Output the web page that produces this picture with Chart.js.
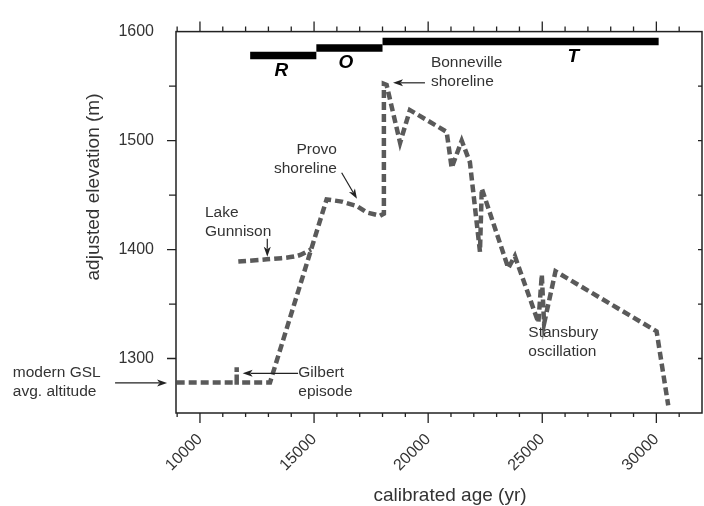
<!DOCTYPE html>
<html>
<head>
<meta charset="utf-8">
<script src="https://cdn.jsdelivr.net/npm/chart.js@4.4.1/dist/chart.umd.min.js"></script>
<style>
  html, body { margin: 0; padding: 0; background: #fff; }
  #wrap { width: 704px; height: 506px; }
</style>
</head>
<body>
<div id="wrap"><canvas id="chart" width="704" height="506"></canvas></div>
<script>
// ── Lake level curve: calibrated age (yr) / adjusted elevation (m) ──
const mainAge  = [8980, 11610, 11610, 11610, 13070, 15550, 16210, 16870, 17310, 17890, 18060, 18060,
                  18180, 18770, 19200, 20810, 21030, 21470, 21830, 22270, 22350, 23510, 23800,
                  24830, 24980, 25080, 25580, 30010, 30520];
const mainElev = [1278, 1278, 1292, 1278, 1278, 1446, 1444, 1440, 1434, 1431, 1433, 1552,
                  1551, 1498, 1528, 1508, 1475, 1500, 1480, 1398, 1456, 1383, 1394,
                  1333, 1377, 1332, 1380, 1325, 1257];

// Lake Gunnison branch
const gunAge  = [11680, 12930, 14240, 14870];
const gunElev = [1389, 1391, 1394, 1400];

// ── Stage bars along the top ──
const stageNames = ['R', 'O', 'T'];
const stageStart = [12200, 15100, 18000];
const stageEnd   = [15100, 18000, 30100];
const stageElev  = [1578, 1585, 1591];

const xTicks = [10000, 15000, 20000, 25000, 30000];
const yTicks = [1300, 1400, 1500, 1600];

// ── Annotations (in data units) ──
const notes = [
    { lines: ['Bonneville', 'shoreline'],   x: 20120, y: 1571.5, align: 'left'  },
    { lines: ['Provo', 'shoreline'],        x: 16000, y: 1491.5, align: 'right' },
    { lines: ['Lake', 'Gunnison'],          x: 10220, y: 1433.5, align: 'left'  },
    { lines: ['modern GSL', 'avg. altitude'], x: 1800, y: 1287,  align: 'left'  },
    { lines: ['Gilbert', 'episode'],        x: 14310, y: 1287,   align: 'left'  },
    { lines: ['Stansbury', 'oscillation'],  x: 24390, y: 1324,   align: 'left'  }
];
const arrows = [
    { from: [19860, 1553],   to: [18460, 1553] },
    { from: [16210, 1470.5], to: [16880, 1446.5] },
    { from: [12950, 1410],   to: [12950, 1393.5] },
    { from: [6280, 1277.6],  to: [8560, 1277.6] },
    { from: [14300, 1286.4], to: [11870, 1286.4] }
];
const stageLabelPos = [[13570, 1564], [16400, 1571], [26360, 1576.5]];

const FONT = '"Liberation Sans", Arial, Helvetica, sans-serif';
Chart.defaults.font.family = FONT;

const pts = (xs, ys) => xs.map((v, i) => ({ x: v, y: ys[i] }));

const datasets = [
    {
        data: pts(mainAge, mainElev), showLine: true,
        borderColor: '#5a5a5a', borderWidth: 4.5, borderDash: [8, 4],
        pointRadius: 0, tension: 0
    },
    {
        data: pts(gunAge, gunElev), showLine: true,
        borderColor: '#5a5a5a', borderWidth: 4.5, borderDash: [8, 4],
        pointRadius: 0, tension: 0.3
    }
];
stageNames.forEach((n, i) => {
    datasets.push({
        data: pts([stageStart[i], stageEnd[i]], [stageElev[i], stageElev[i]]), showLine: true,
        borderColor: '#000', borderWidth: 7.5, borderCapStyle: 'butt', pointRadius: 0
    });
});

function arrow(ctx, x1, y1, x2, y2) {
    const ang = Math.atan2(y2 - y1, x2 - x1), L = 10, W = 3.5;
    ctx.beginPath();
    ctx.moveTo(x1, y1);
    ctx.lineTo(x2 - Math.cos(ang) * L * 0.8, y2 - Math.sin(ang) * L * 0.8);
    ctx.stroke();
    ctx.beginPath();
    ctx.moveTo(x2, y2);
    ctx.lineTo(x2 - Math.cos(ang) * L + Math.sin(ang) * W, y2 - Math.sin(ang) * L - Math.cos(ang) * W);
    ctx.lineTo(x2 - Math.cos(ang) * L * 0.75, y2 - Math.sin(ang) * L * 0.75);
    ctx.lineTo(x2 - Math.cos(ang) * L - Math.sin(ang) * W, y2 - Math.sin(ang) * L + Math.cos(ang) * W);
    ctx.closePath();
    ctx.fill();
}

const frame = {
    id: 'frame',
    afterDraw(chart) {
        const { ctx, chartArea: a, scales: { x, y } } = chart;
        ctx.save();
        // box
        ctx.strokeStyle = '#222';
        ctx.lineWidth = 1.5;
        ctx.strokeRect(a.left, a.top, a.right - a.left, a.bottom - a.top);
        // tick marks
        ctx.lineWidth = 1.3;
        ctx.beginPath();
        for (let v = 9000; v < 32000; v += 1000) {
            const px = x.getPixelForValue(v), major = v % 5000 === 0;
            ctx.moveTo(px, a.bottom); ctx.lineTo(px, a.bottom + (major ? 10 : 4));
            ctx.moveTo(px, a.top);    ctx.lineTo(px, a.top - (major ? 10 : 5));
        }
        for (let v = 1300; v < 1600; v += 50) {
            const py = y.getPixelForValue(v), major = v % 100 === 0;
            ctx.moveTo(a.left, py);  ctx.lineTo(a.left - (major ? 9 : 7), py);
            ctx.moveTo(a.right, py); ctx.lineTo(a.right - 4, py);
        }
        ctx.stroke();

        // stage letters
        ctx.fillStyle = '#000';
        ctx.font = 'italic bold 19px ' + FONT;
        ctx.textAlign = 'center';
        ctx.textBaseline = 'middle';
        stageNames.forEach((n, i) => {
            ctx.fillText(n, x.getPixelForValue(stageLabelPos[i][0]), y.getPixelForValue(stageLabelPos[i][1]));
        });

        // notes
        ctx.fillStyle = '#333';
        ctx.font = '15.5px ' + FONT;
        notes.forEach(n => {
            ctx.textAlign = n.align;
            const px = x.getPixelForValue(n.x), py = y.getPixelForValue(n.y);
            n.lines.forEach((t, k) => ctx.fillText(t, px, py + k * 19));
        });

        // arrows
        ctx.strokeStyle = '#222';
        ctx.fillStyle = '#222';
        ctx.lineWidth = 1.2;
        arrows.forEach(r => arrow(ctx,
            x.getPixelForValue(r.from[0]), y.getPixelForValue(r.from[1]),
            x.getPixelForValue(r.to[0]),   y.getPixelForValue(r.to[1])));

        // axis titles
        ctx.fillStyle = '#333';
        ctx.font = '19px ' + FONT;
        ctx.textAlign = 'center';
        ctx.fillText('calibrated age (yr)', 450, 496);
        ctx.translate(94, 187);
        ctx.rotate(-Math.PI / 2);
        ctx.fillText('adjusted elevation (m)', 0, 0);
        ctx.restore();
    }
};

new Chart(document.getElementById('chart'), {
    type: 'scatter',
    data: { datasets },
    options: {
        responsive: false, animation: false,
        layout: { padding: { top: 20, right: 2, left: 0, bottom: 0 } },
        plugins: { legend: { display: false }, tooltip: { enabled: false } },
        scales: {
            x: {
                type: 'linear', min: 8950, max: 32000,
                afterBuildTicks: s => { s.ticks = xTicks.map(v => ({ value: v })); },
                afterFit: s => { s.height = 93; },
                grid: { display: false, drawTicks: false }, border: { display: false },
                ticks: { minRotation: 45, maxRotation: 45, padding: 17, color: '#333',
                         font: { size: 16 }, callback: v => String(v) }
            },
            y: {
                min: 1250, max: 1600,
                afterBuildTicks: s => { s.ticks = yTicks.map(v => ({ value: v })); },
                afterFit: s => { s.width = 176; },
                grid: { display: false, drawTicks: false }, border: { display: false },
                ticks: { padding: 22, color: '#333', font: { size: 16 }, callback: v => String(v) }
            }
        }
    },
    plugins: [frame]
});
</script>
</body>
</html>
